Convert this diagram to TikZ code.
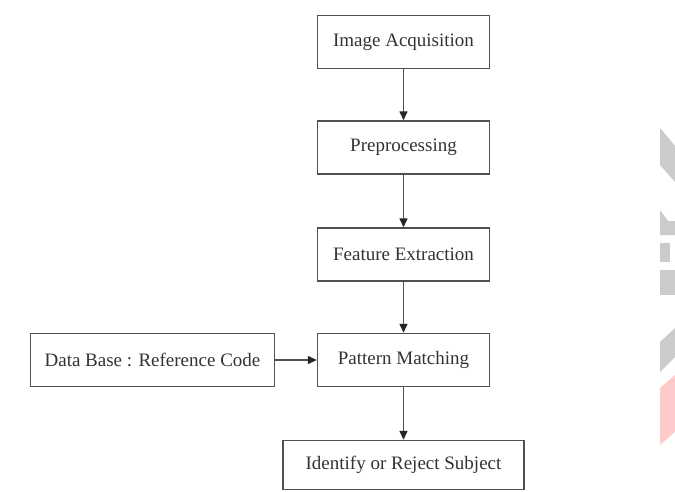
\documentclass[tikz,border=0pt]{standalone}
\usepackage{fontspec}
\setmainfont{Liberation Serif}
\usetikzlibrary{arrows.meta}
\definecolor{boxline}{HTML}{505050}
\definecolor{boxtext}{HTML}{333333}
\definecolor{markgrey}{HTML}{CBCBCB}
\definecolor{markpink}{HTML}{FFCACA}
\tikzset{
  stage/.style={draw=boxline, line width=1.4pt, rectangle, inner sep=0pt,
    minimum width=172pt, minimum height=53pt, text=boxtext,
    font=\fontsize{19}{22}\selectfont},
  flow/.style={draw=boxline, line width=1.4pt,
    -{Triangle[length=9pt,width=8pt,color=black!85]}}
}
\begin{document}
\begin{tikzpicture}[x=1pt,y=-1pt]
  \useasboundingbox[fill=white] (0,0) rectangle (675,491);

  % faint logo shapes along the right edge
  \fill[markgrey] (660,128) -- (675,146) -- (675,182) -- (660,165) -- cycle;
  \fill[markgrey] (660,210) -- (668,221) -- (675,221) -- (675,235) -- (660,235) -- cycle;
  \fill[markgrey] (660,243) rectangle (670,262);
  \fill[markgrey] (660,270) rectangle (675,295);
  \fill[markgrey] (660,342) -- (675,328) -- (675,357) -- (660,372) -- cycle;
  \fill[markpink] (660,388) -- (675,375) -- (675,432) -- (660,445) -- cycle;

  % processing stages
  \node[stage] (acq)  at (403.5,42)    {Image Acquisition};
  \node[stage] (pre)  at (403.5,147.5) {Preprocessing};
  \node[stage] (feat) at (403.5,254.5) {Feature Extraction};
  \node[stage] (pat)  at (403.5,360)   {Pattern Matching};
  \node[stage, minimum width=244pt] (db) at (152.5,360) {Data Base : Reference Code};
  \node[stage, minimum width=241pt, minimum height=49pt] (out) at (403.5,465) {Identify or Reject Subject};

  % connectors
  \draw[flow] (acq) -- (pre);
  \draw[flow] (pre) -- (feat);
  \draw[flow] (feat) -- (pat);
  \draw[flow] (db) -- (pat);
  \draw[flow] (pat) -- (out);
\end{tikzpicture}
\end{document}
